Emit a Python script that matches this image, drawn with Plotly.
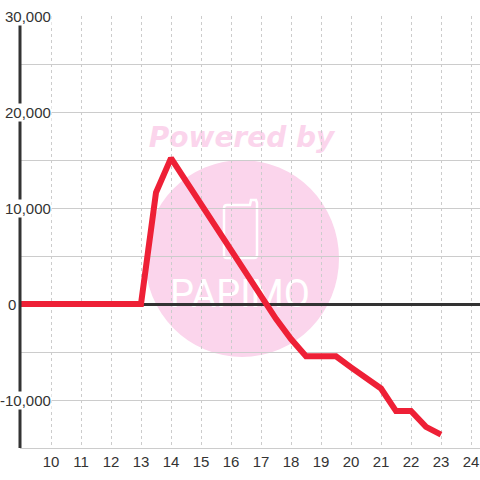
import plotly.graph_objects as go

# ---- data ----
hours = [9, 9.5, 10, 10.5, 11, 11.5, 12, 12.5, 13, 13.5, 14, 14.5, 15, 15.5, 16,
         16.5, 17, 17.5, 18, 18.5, 19, 19.5, 20, 20.5, 21, 21.5, 22, 22.5, 23]
values = [0, 0, 0, 0, 0, 0, 0, 0, 0, 11600, 15200, 12800, 10400, 8000, 5600,
          3200, 750, -1550, -3650, -5450, -5450, -5450, -6600, -7650, -8800, -11150, -11150, -12800, -13600]
x_ticks = list(range(10, 25))
y_ticks = [30000, 20000, 10000, 0, -10000]
y_tick_labels = ["30,000", "20,000", "10,000", "0", "-10,000"]

# ---- geometry (pixels of the 480x480 canvas) ----
L, R, T, B = 20, 480, 16, 448
W, H = R - L, B - T


def px(x):
    return (x - L) / W


def py(y):
    return (B - y) / H


RED = "#EE2036"
PINK = "#FBD5EC"
DARK = "#333333"
GRID = "#CCCCCC"
FONT = "Liberation Sans, Arial"

fig = go.Figure()
fig.add_trace(go.Scatter(x=hours, y=values, mode="lines",
                         line=dict(color=RED, width=6), hoverinfo="skip",
                         showlegend=False))

shapes = []
# watermark circle
shapes.append(dict(type="circle", xref="paper", yref="paper",
                   x0=px(145), x1=px(339), y0=py(357), y1=py(160),
                   fillcolor=PINK, line=dict(width=0), layer="below"))
# "Powered by"
shapes.append(dict(type="rect", xref="paper", yref="paper",
                   x0=px(140), x1=px(343), y0=py(152), y1=py(118),
                   fillcolor="rgba(0,0,0,0)", line=dict(width=0), layer="below",
                   label=dict(text="Powered by", textposition="middle center",
                              font=dict(family="DejaVu Sans", size=28, color=PINK,
                                        weight="bold", style="italic"))))
# phone icon
path = ("M {a},{b} Q {c},{d} {e},{f} L {g},{f} L {h},{i} L {j},{i} L {k},{l} L {k},{m} "
        "Q {k},{n} {o},{n} L {e},{n} Q {c},{n} {c},{m} Z").format(
    a=px(224), b=py(208), c=px(224), d=py(205), e=px(227), f=py(205),
    g=px(250), h=px(251), i=py(200), j=px(256), k=px(257), l=py(203),
    m=py(255), n=py(258), o=px(254))
shapes.append(dict(type="path", xref="paper", yref="paper", path=path,
                   line=dict(color="white", width=2.5), layer="below"))
# "PAPIMO"
shapes.append(dict(type="rect", xref="paper", yref="paper",
                   x0=px(160), x1=px(320), y0=py(312), y1=py(270),
                   fillcolor="rgba(0,0,0,0)", line=dict(width=0), layer="below",
                   label=dict(text="PAPIMO", textposition="middle center",
                              font=dict(family="Roboto", size=38, color="white"))))
# y axis line
shapes.append(dict(type="line", xref="paper", yref="y", x0=0, x1=0,
                   y0=-15000, y1=29200, line=dict(color=DARK, width=3), layer="above"))

annotations = []
for v, t in zip(y_ticks, y_tick_labels):
    right_edge = 16.5 if t == "0" else 52
    annotations.append(dict(xref="paper", yref="y", x=px(right_edge), y=v, text=t,
                            xanchor="right", yanchor="middle", showarrow=False,
                            bgcolor="white", borderpad=0,
                            font=dict(family=FONT, size=15, color=DARK)))

fig.update_layout(
    width=480, height=480,
    margin=dict(l=L, r=480 - R, t=T, b=480 - B),
    paper_bgcolor="white", plot_bgcolor="white",
    shapes=shapes, annotations=annotations,
    xaxis=dict(range=[9 - 1 / 30, 9 + (W - 1) / 30], tickvals=x_ticks,
               showgrid=True, gridcolor=GRID, griddash="3px,3px", gridwidth=1,
               zeroline=False, showline=True, linecolor=GRID, linewidth=1,
               ticks="", tickfont=dict(family=FONT, size=15, color=DARK)),
    yaxis=dict(range=[-15000, 30000], tickvals=[-15000, -10000, -5000, 0, 5000, 10000, 15000, 20000, 25000, 30000],
               showticklabels=False, showgrid=True, gridcolor=GRID, gridwidth=1,
               zeroline=True, zerolinecolor=DARK, zerolinewidth=3, ticks=""),
)

fig.write_html("out.html", config={"displayModeBar": False},
               post_script="document.body.style.margin='0';")
